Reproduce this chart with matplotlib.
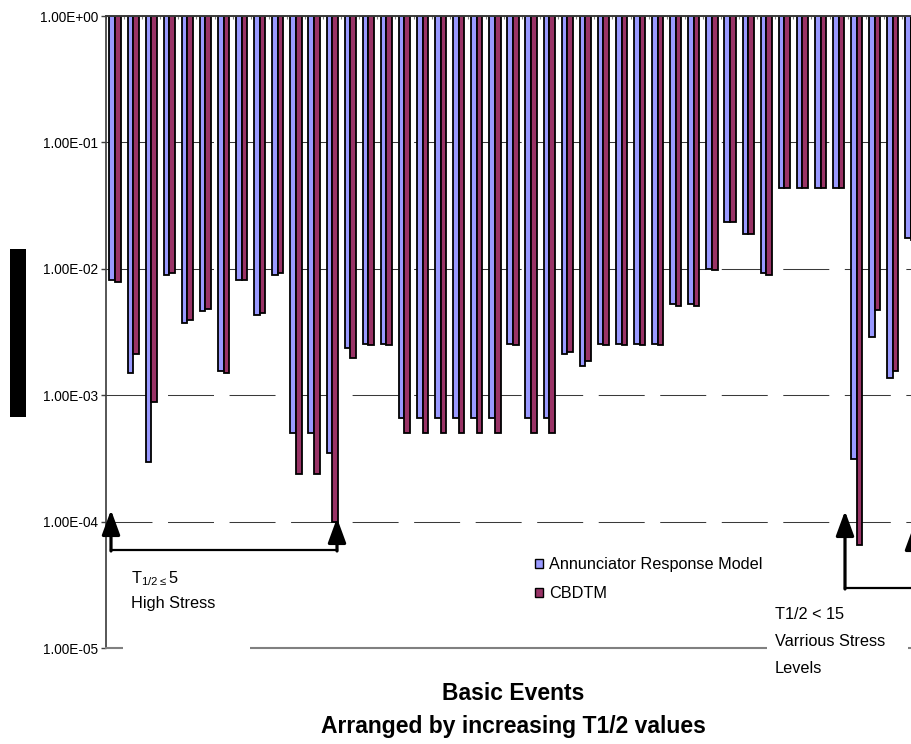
import matplotlib
matplotlib.use("Agg")
import matplotlib.pyplot as plt
from matplotlib.patches import Rectangle, Patch, FancyArrowPatch
from matplotlib.lines import Line2D
from matplotlib.ticker import NullLocator
import numpy as np

# Failure probabilities per basic event, ordered by increasing T1/2
annunciator = [8.2e-3, 1.5e-3, 2.95e-4, 9.0e-3, 3.7e-3, 4.6e-3, 1.56e-3, 8.1e-3,
               4.3e-3, 9.0e-3, 5.0e-4, 5.0e-4, 3.5e-4, 2.35e-3, 2.55e-3, 2.55e-3,
               6.6e-4, 6.6e-4, 6.6e-4, 6.6e-4, 6.6e-4, 6.6e-4, 2.55e-3, 6.6e-4,
               6.6e-4, 2.1e-3, 1.7e-3, 2.55e-3, 2.55e-3, 2.55e-3, 2.55e-3, 5.3e-3,
               5.3e-3, 9.9e-3, 2.35e-2, 1.9e-2, 9.3e-3, 4.35e-2, 4.35e-2, 4.35e-2,
               4.35e-2, 3.1e-4, 2.9e-3, 1.37e-3, 1.75e-2]
cbdtm = [7.9e-3, 2.1e-3, 8.8e-4, 9.3e-3, 3.9e-3, 4.8e-3, 1.5e-3, 8.1e-3,
         4.5e-3, 9.3e-3, 2.4e-4, 2.4e-4, 1.0e-4, 1.96e-3, 2.5e-3, 2.5e-3,
         5.0e-4, 5.0e-4, 5.0e-4, 5.0e-4, 5.0e-4, 5.0e-4, 2.5e-3, 5.0e-4,
         5.0e-4, 2.2e-3, 1.85e-3, 2.5e-3, 2.5e-3, 2.5e-3, 2.5e-3, 5.1e-3,
         5.1e-3, 9.8e-3, 2.35e-2, 1.9e-2, 9.0e-3, 4.35e-2, 4.35e-2, 4.35e-2,
         4.35e-2, 6.5e-5, 4.7e-3, 1.55e-3, 1.7e-2]
series_names = ["Annunciator Response Model", "CBDTM"]
y_ticks = [1e0, 1e-1, 1e-2, 1e-3, 1e-4, 1e-5]
y_tick_labels = ["1.00E+00", "1.00E-01", "1.00E-02", "1.00E-03", "1.00E-04", "1.00E-05"]
x_title = ["Basic Events", "Arranged by increasing T1/2 values"]
group_notes = ["High Stress", ["T1/2 < 15", "Varrious Stress", "Levels"]]

BLUE = "#9999FF"
MAROON = "#993366"
FONT = "Liberation Sans"
NOTE_SIZE = 11.7

plt.rcParams["lines.scale_dashes"] = False
plt.rcParams["mathtext.fontset"] = "custom"
plt.rcParams["mathtext.rm"] = FONT
plt.rcParams["mathtext.default"] = "rm"

W, H = 912, 744
fig = plt.figure(figsize=(W / 100, H / 100), dpi=100)


def fx(px):
    return px / W


def fy(py):
    return 1 - py / H


ax = fig.add_axes([fx(106), fy(648), 814 / W, 632 / H])
ax.set_yscale("log")
ax.set_ylim(1e-5, 1)
n = len(annunciator)
x = np.arange(n)
ax.set_xlim(-0.5, n - 0.5)

bw = 0.31
ax.bar(x - bw / 2, [1 - v for v in annunciator], bottom=annunciator, width=bw,
       color=BLUE, edgecolor="black", linewidth=1.3, zorder=2)
ax.bar(x + bw / 2, [1 - v for v in cbdtm], bottom=cbdtm, width=bw,
       color=MAROON, edgecolor="black", linewidth=1.3, zorder=2)

# y axis
ax.set_yticks(y_ticks)
ax.set_yticklabels(y_tick_labels, fontsize=9.8, family=FONT)
ax.yaxis.set_minor_locator(NullLocator())
ax.tick_params(axis="y", which="major", direction="out", length=3.6, width=1.0,
               color="#404040", pad=2)
ax.yaxis.grid(True, which="major", linestyle=(0, (33.1, 11.2)), color="#3a3a3a",
              linewidth=0.75)
ax.set_axisbelow(True)

# category axis along the top
ax.xaxis.set_ticks_position("top")
ax.set_xticks(np.arange(n + 1) - 0.5)
ax.tick_params(axis="x", direction="in", length=2.2, width=0.8, color="#808080",
               labeltop=False, labelbottom=False)
ax.xaxis.set_minor_locator(NullLocator())

for side, col, lw in [("top", "#3a3a3a", 1.4), ("left", "#3a3a3a", 1.2),
                      ("bottom", "#808080", 1.5)]:
    ax.spines[side].set_color(col)
    ax.spines[side].set_linewidth(lw)
ax.spines["right"].set_visible(False)

# axis title
fig.text(fx(513), fy(700), x_title[0], ha="center", va="baseline", fontsize=16.5,
         fontweight="bold", family=FONT)
fig.text(fx(513), fy(733), x_title[1], ha="center", va="baseline", fontsize=16.5,
         fontweight="bold", family=FONT)

# legend
handles = [Patch(facecolor=BLUE, edgecolor="black", linewidth=1.0),
           Patch(facecolor=MAROON, edgecolor="black", linewidth=1.0)]
fig.legend(handles, series_names, loc="upper left",
           bbox_to_anchor=(fx(527), fy(549)), frameon=False, borderpad=0,
           handlelength=0.5, handleheight=0.5, handletextpad=0.35,
           labelspacing=0.85, prop=dict(family=FONT, size=NOTE_SIZE))

# white text boxes behind the group notes
for (x0, y0, x1, y1) in [(123, 562, 250, 656), (767, 598, 908, 684)]:
    fig.add_artist(Rectangle((fx(x0), fy(y1)), (x1 - x0) / W, (y1 - y0) / H,
                             transform=fig.transFigure, facecolor="white",
                             edgecolor="none", zorder=1))

fig.text(fx(131), fy(583), r"T$_{1/2\leq}$5", ha="left", va="baseline",
         fontsize=NOTE_SIZE, family=FONT)
fig.text(fx(131), fy(608), group_notes[0], ha="left", va="baseline",
         fontsize=NOTE_SIZE, family=FONT)
for i, line in enumerate(group_notes[1]):
    fig.text(fx(775), fy(619 + 27 * i), line, ha="left", va="baseline",
             fontsize=NOTE_SIZE, family=FONT)


# range brackets
def up_arrow(xp, y_from, y_to):
    fig.add_artist(FancyArrowPatch((fx(xp), fy(y_from)), (fx(xp), fy(y_to)),
                                   transform=fig.transFigure,
                                   arrowstyle="-|>,head_length=1.5,head_width=0.55",
                                   mutation_scale=10, color="black", lw=2.3,
                                   shrinkA=0, shrinkB=0, zorder=2.5))


def hline(xa, xb, yp):
    fig.add_artist(Line2D([fx(xa), fx(xb)], [fy(yp), fy(yp)], transform=fig.transFigure,
                          color="black", lw=1.6, zorder=2.5))


up_arrow(111, 551, 510)
up_arrow(337, 551, 518)
hline(111, 337, 550)
up_arrow(845, 589, 511)
up_arrow(914, 589, 525)
hline(845, 920, 588)

# redacted axis label
fig.add_artist(Rectangle((fx(10), fy(417)), 16 / W, 168 / H, transform=fig.transFigure,
                         facecolor="black", edgecolor="none", zorder=3))

fig.savefig("out.png", dpi=100)
